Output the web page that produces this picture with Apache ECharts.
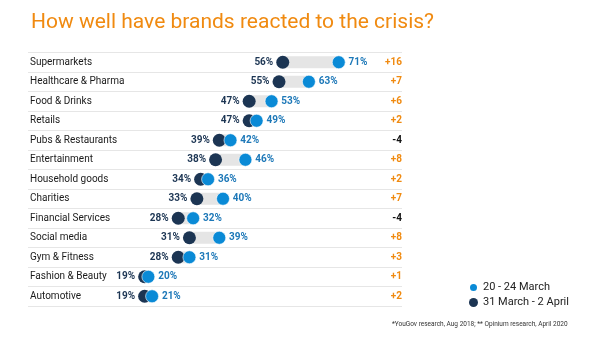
<!DOCTYPE html>
<html><head><meta charset="utf-8">
<script src="https://cdn.jsdelivr.net/npm/echarts@6/dist/echarts.min.js"></script>
<style>html,body{margin:0;padding:0;background:#fff}#c{width:600px;height:344px}</style>
</head><body><div id="c"></div>
<script>
const categories = ["Supermarkets","Healthcare & Pharma","Food & Drinks","Retails","Pubs & Restaurants","Entertainment","Household goods","Charities","Financial Services","Social media","Gym & Fitness","Fashion & Beauty","Automotive"];
const march = [71,63,53,49,42,46,36,40,32,39,31,20,21];
const april = [56,55,47,47,39,38,34,33,28,31,28,19,19];
const changes = ["+16","+7","+6","+2","-4","+8","+2","+7","-4","+8","+3","+1","+2"];
const seriesNames = ["20 - 24 March","31 March - 2 April"];

const FONT = "Roboto";
const DARK = "#1c3553";
const LIGHT = "#0a8ad6";
const ORANGE = "#f08a10";
const TOP = 52.5, H = 253.5;

const chart = echarts.init(document.getElementById('c'), null, {renderer:'canvas'});
chart.setOption({
  animation:false,
  textStyle:{fontFamily:FONT},
  title:{text:"How well have brands reacted to the crisis?",left:31,top:12,padding:0,
    textStyle:{color:ORANGE,fontSize:21,fontWeight:'normal',fontFamily:FONT}},
  legend:{data:seriesNames,orient:'vertical',left:468,top:282,padding:0,itemWidth:9,itemHeight:9,itemGap:4,
    icon:'circle',textStyle:{fontSize:11,color:'#222',fontFamily:FONT}},
  graphic:[{type:'text',left:392,top:321,style:{text:"*YouGov research, Aug 2018; ** Opinium research, April 2020",fontSize:6.5,fill:'#333',fontFamily:FONT}}],
  grid:[
    {left:73.7,width:373.3,top:TOP,height:H},
    {left:28,right:198,top:TOP,height:H}
  ],
  xAxis:[
    {gridIndex:0,type:'value',min:0,max:100,show:false},
    {gridIndex:1,type:'value',min:0,max:1,show:false}
  ],
  yAxis:[
    {gridIndex:0,type:'category',data:categories,inverse:true,show:false},
    {gridIndex:1,type:'category',data:categories,inverse:true,position:'left',
      axisLine:{show:false},axisTick:{show:false},
      splitLine:{show:true,lineStyle:{color:'#e6e6e6',width:1}},
      axisLabel:{inside:true,margin:2,color:'#1a1a1a',fontSize:10,fontFamily:FONT}},
    {gridIndex:1,type:'category',data:changes,inverse:true,position:'right',
      axisLine:{show:false},axisTick:{show:false},splitLine:{show:false},
      axisLabel:{inside:true,margin:0,fontSize:10,fontWeight:'bold',fontFamily:FONT,
        color:function(v){return v.charAt(0)==='-'?'#111':ORANGE;}}}
  ],
  series:[
    {type:'bar',xAxisIndex:0,yAxisIndex:0,stack:'gap',barWidth:12,silent:true,
      itemStyle:{color:'transparent'},data:april},
    {type:'bar',xAxisIndex:0,yAxisIndex:0,stack:'gap',barWidth:12,silent:true,
      itemStyle:{color:'#e5e5e5'},data:march.map((v,i)=>v-april[i])},
    {name:seriesNames[1],type:'scatter',xAxisIndex:0,yAxisIndex:0,symbolSize:13,z:3,
      itemStyle:{color:DARK,opacity:1},
      label:{show:true,position:'left',distance:3,color:DARK,fontSize:10,fontWeight:'bold',fontFamily:FONT,
        formatter:p=>p.value[0]+'%'},
      data:april.map((v,i)=>[v,categories[i]])},
    {name:seriesNames[0],type:'scatter',xAxisIndex:0,yAxisIndex:0,symbolSize:13,z:4,
      itemStyle:{color:LIGHT,opacity:1,borderColor:'#fff',borderWidth:0.6},
      label:{show:true,position:'right',distance:3,color:'#1d78b8',fontSize:10,fontWeight:'bold',fontFamily:FONT,
        formatter:p=>p.value[0]+'%'},
      data:march.map((v,i)=>[v,categories[i]])}
  ]
});
</script></body></html>
